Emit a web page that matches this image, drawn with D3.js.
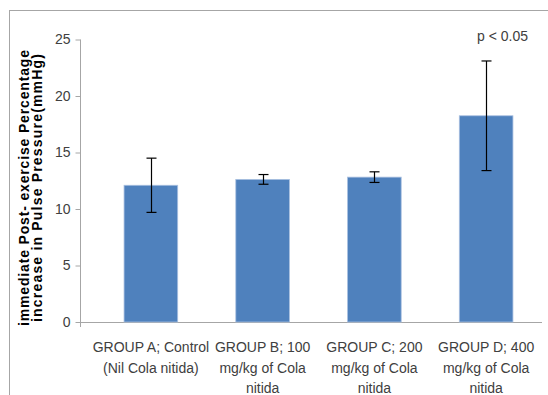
<!DOCTYPE html>
<html>
<head>
<meta charset="utf-8">
<script src="https://cdn.jsdelivr.net/npm/d3@7"></script>
<style>
  html, body { margin: 0; padding: 0; background: #fff; overflow: hidden; }
  svg { display: block; }
  text { font-family: "Liberation Sans", Arial, sans-serif; fill: #404040; }
</style>
</head>
<body>
<div id="chart"></div>
<script>
// ---- data ----
const categories = [
  "GROUP A; Control|(Nil Cola nitida)",
  "GROUP B; 100|mg/kg of Cola|nitida",
  "GROUP C; 200|mg/kg of Cola|nitida",
  "GROUP D; 400|mg/kg of Cola|nitida"
];
const means = [12.1, 12.62, 12.82, 18.25];
const errors = [2.4, 0.43, 0.47, 4.85];
const yTicks = [0, 5, 10, 15, 20, 25];
const yTitleLines = ["immediate Post- exercise Percentage", "increase in Pulse  Pressure(mmHg)"];
const annotation = "p < 0.05";

// ---- layout ----
const W = 548, H = 395;
const svg = d3.select("#chart").append("svg").attr("width", W).attr("height", H);

// outer frame
svg.append("rect").attr("x", 9.5).attr("y", 10.5).attr("width", 560).attr("height", 420)
  .attr("fill", "none").attr("stroke", "#a6a6a6").attr("stroke-width", 1);

const y = d3.scaleLinear().domain([0, 25]).range([322, 39.5]);
const x = d3.scaleBand().domain(categories).range([95, 542]).paddingInner(0.52).paddingOuter(0.26);

const axisColor = "#a6a6a6";

// y axis
const yAxis = svg.append("g").attr("transform", "translate(80.5,0)")
  .call(d3.axisLeft(y).tickValues(yTicks).tickSize(5).tickSizeOuter(0).tickPadding(5));
yAxis.select(".domain").attr("stroke", axisColor).attr("d", `M0,${y(25)}V${y(0) + 5}`);
yAxis.selectAll(".tick line").attr("stroke", axisColor);
yAxis.selectAll(".tick text").attr("font-size", 14).attr("fill", "#404040")
  .attr("font-family", "Liberation Sans, Arial, sans-serif");

// x axis line
svg.append("line").attr("x1", 80).attr("x2", 542).attr("y1", y(0) + 0.5).attr("y2", y(0) + 0.5)
  .attr("stroke", axisColor).attr("stroke-width", 1);

// bars
svg.append("g").selectAll("rect").data(categories).join("rect")
  .attr("x", d => x(d))
  .attr("y", (d, i) => y(means[i]))
  .attr("width", x.bandwidth())
  .attr("height", (d, i) => y(0) - y(means[i]))
  .attr("fill", "#4f81bd")
  .attr("stroke", "#a9c0e0").attr("stroke-width", 0.8);

// error bars
const eb = svg.append("g").attr("stroke", "#000").attr("stroke-width", 1.2);
categories.forEach((c, i) => {
  const cx = Math.round(x(c) + x.bandwidth() / 2) + 0.5;
  const top = y(means[i] + errors[i]), bot = y(means[i] - errors[i]);
  eb.append("line").attr("x1", cx).attr("x2", cx).attr("y1", top).attr("y2", bot);
  eb.append("line").attr("x1", cx - 5).attr("x2", cx + 5).attr("y1", top).attr("y2", top);
  eb.append("line").attr("x1", cx - 5).attr("x2", cx + 5).attr("y1", bot).attr("y2", bot);
});

// category labels
categories.forEach(c => {
  const cx = x(c) + x.bandwidth() / 2;
  const t = svg.append("text").attr("text-anchor", "middle").attr("font-size", 14);
  c.split("|").forEach((ln, j) => {
    t.append("tspan").attr("x", cx).attr("y", 352 + j * 20.5).text(ln);
  });
});

// y axis title
const yt = svg.append("text").attr("transform", "translate(0,188) rotate(-90)")
  .attr("text-anchor", "middle").attr("font-weight", "bold").attr("font-size", 14).style("fill", "#000");
yt.append("tspan").attr("x", 0).attr("y", 29).attr("textLength", 276).attr("lengthAdjust", "spacing").text(yTitleLines[0]);
yt.append("tspan").attr("x", 0).attr("y", 42).attr("textLength", 268).attr("lengthAdjust", "spacing").text(yTitleLines[1]);

// annotation
svg.append("text").attr("x", 502.5).attr("y", 41).attr("text-anchor", "middle")
  .attr("font-size", 14).text(annotation);
</script>
</body>
</html>
